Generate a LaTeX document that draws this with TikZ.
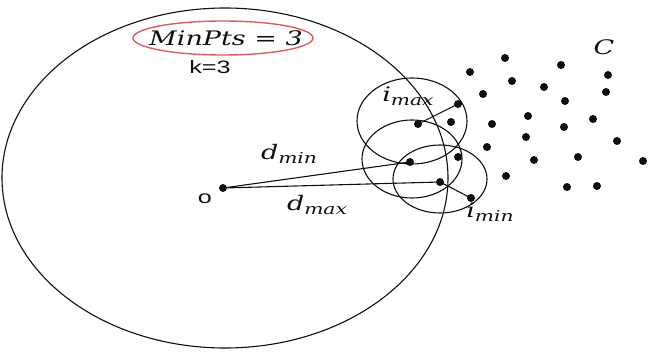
\documentclass[tikz,border=0pt]{standalone}
\usepackage{fontspec}
\usepackage{tikz}
\usetikzlibrary{positioning}
\newfontfamily\labelfont{DejaVu Serif}
\newfontfamily\plainfont{Liberation Sans}
\definecolor{ink}{RGB}{15,15,15}
\definecolor{rose}{RGB}{215,95,90}
\newcommand{\lowidx}[1]{\raisebox{-0.4ex}{\fontsize{15}{17}\selectfont\itshape #1}}
\tikzset{
  dot/.style={circle,fill=ink,inner sep=0pt,minimum size=8pt},
  ring/.style={draw=ink,line width=1.1pt},
  link/.style={draw=ink,line width=1.1pt},
  lbl/.style={font=\fontsize{20}{24}\selectfont\labelfont\itshape,text=ink,inner sep=0pt,
    xscale=1.35,transform shape},
  sans/.style={font=\fontsize{18}{20}\selectfont\plainfont,text=ink,inner sep=0pt,
    xscale=1.4,transform shape},
}

\begin{document}
\begin{tikzpicture}[x=1pt,y=-1pt]
  \useasboundingbox (0,0) rectangle (648,353);
  % eps-neighbourhood of o
  \draw[ring] (225,178) ellipse [x radius=223, y radius=170];
  \draw[rose,line width=1.4pt] (223,38) ellipse [x radius=90, y radius=17];
  \node[lbl] (minpts) at (226,38) {MinPts = 3};
  \node[sans] (k) at (210,67) {k=3};
  % the point o and its k nearest neighbours
  \node[dot] (o) at (223,188) {};
  \node[sans] (olbl) at (205,199) {o};
  \node[dot] (qmin) at (410,162) {};
  \node[dot] (qmax) at (440,182) {};
  \node[dot] (qtop) at (418,124) {};
  \node[dot] (imax) at (458,104) {};
  \node[dot] (imin) at (471,198) {};
  % local circles
  \draw[ring] (412,121) ellipse [x radius=55, y radius=43];
  \draw[ring] (412,159) ellipse [x radius=50, y radius=39];
  \draw[ring] (440,179) ellipse [x radius=47, y radius=34];
  % distances
  \draw[link] (o.center) -- (qmin.center);
  \draw[link] (o.center) -- (qmax.center);
  \draw[link] (qtop.center) -- (imax.center);
  \draw[link] (qmax.center) -- (imin.center);
  \node[lbl] (dmin) at (289,154) {d\lowidx{min}};
  \node[lbl] (dmax) at (317,205) {d\lowidx{max}};
  \node[lbl] (imaxlbl) at (408,96) {i\lowidx{max}};
  \node[lbl] (iminlbl) at (490,212) {i\lowidx{min}};
  % cluster C
  \foreach \x/\y [count=\i] in {451/122,458/157,505/58,470/72,561/65,512/81,608/75,
      483/94,544/87,606/92,565/101,492/124,528/116,564/127,593/119,526/137,
      487/147,617/141,534/160,578/157,643/161,506/176,567/187,597/186}
    \node[dot] (c\i) at (\x,\y) {};
  \node[lbl] (clbl) at (604,47) {C};
\end{tikzpicture}
\end{document}
